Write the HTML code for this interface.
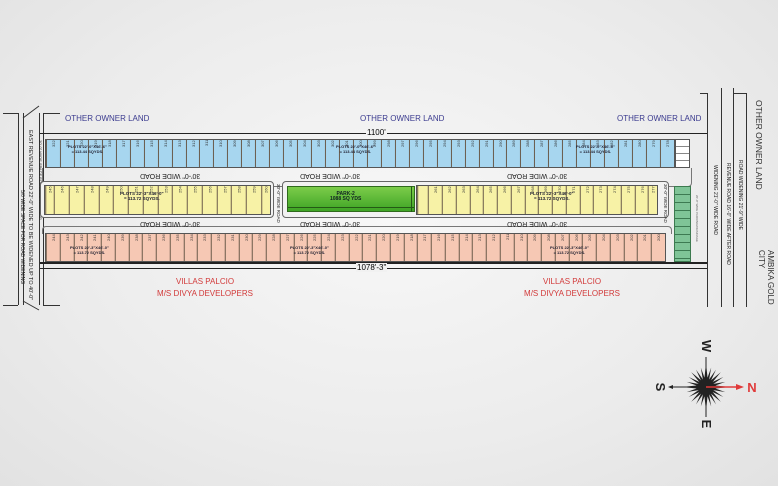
<!DOCTYPE html>
<html><head><meta charset="utf-8"><style>
*{margin:0;padding:0;box-sizing:border-box}
body{width:778px;height:486px;overflow:hidden;position:relative;font-family:"Liberation Sans",sans-serif;background:radial-gradient(ellipse at 50% 45%,#f7f7f7 0%,#ececec 60%,#e2e2e2 100%)}
.a{position:absolute}
.row{position:absolute;display:flex;border:1px solid #555}
.row span{flex:1;border-right:1px solid #6a5a4a;font-size:4px;writing-mode:vertical-rl;transform:rotate(180deg);display:flex;align-items:center;justify-content:flex-end;padding-top:2px;color:#333}
.blue{background:#a7d6ef}.yel{background:#f7f2a6}.pink{background:#f6c8b4}
.lbl{position:absolute;font-size:8px;color:#3b3b8f;white-space:nowrap}
.red{color:#d23a3a;font-size:8px;text-align:center;position:absolute;line-height:12px}
.road{position:absolute;font-size:7px;color:#222;transform:rotate(180deg);white-space:nowrap}
.v{position:absolute;background:#333;width:1px}
.h{position:absolute;background:#333;height:1px}
.vt{position:absolute;writing-mode:vertical-rl;font-size:5px;color:#222;white-space:nowrap}
.note{position:absolute;font-size:4px;font-weight:bold;color:#223;text-align:center;line-height:5px}
</style></head><body>

<!-- left vertical roads -->
<div class="v" style="left:18px;top:113px;height:192px"></div>
<div class="v" style="left:23px;top:113px;height:192px"></div>
<div class="v" style="left:39px;top:113px;height:192px"></div>
<div class="v" style="left:43px;top:113px;height:192px"></div>
<div class="h" style="left:3px;top:113px;width:15px"></div>
<div class="h" style="left:43px;top:113px;width:17px"></div>
<div class="h" style="left:3px;top:305px;width:15px"></div>
<div class="h" style="left:43px;top:305px;width:17px"></div>
<svg class="a" style="left:0;top:100px" width="60" height="215"><line x1="23" y1="18" x2="39" y2="6" stroke="#333"/><line x1="23" y1="201" x2="39" y2="210" stroke="#333"/></svg>
<div class="vt" style="left:27px;top:130px;font-size:5.5px">EAST REVENUE ROAD 22'-0" WIDE TO BE WIDENED UP TO 40'-0"</div>
<div class="vt" style="left:19px;top:190px;font-size:5px">5/0 WIDE SPACE FOR ROAD WIDENING</div>
<div class="vt" style="left:38px;top:140px;font-size:4px">20'-0" WIDE SPACE FOR ROAD WIDENING</div>

<!-- right vertical roads -->
<div class="v" style="left:707px;top:93px;height:214px"></div>
<div class="v" style="left:721px;top:88px;height:219px"></div>
<div class="v" style="left:733px;top:88px;height:219px"></div>
<div class="v" style="left:746px;top:93px;height:214px"></div>
<div class="h" style="left:700px;top:93px;width:8px"></div>
<div class="h" style="left:733px;top:93px;width:13px"></div>
<div class="vt" style="left:737px;top:160px">ROAD WIDENING 21'-9" WIDE</div>
<div class="vt" style="left:725px;top:163px">REVENUE ROAD 16'-0" WIDE AFTER ROAD</div>
<div class="vt" style="left:712px;top:165px">WIDENING 21'-0" WIDE ROAD</div>
<div class="vt" style="left:695px;top:195px;font-size:3px;color:#666">20'-0" WIDE PARKING/DRAINAGE</div>
<div class="vt" style="left:754px;top:100px;font-size:8.5px;color:#333">OTHER OWNER LAND</div>
<div class="vt" style="left:757px;top:250px;font-size:8px;color:#333;line-height:9px">AMBIKA GOLD<br>CITY</div>

<!-- horizontal lines -->
<div class="h" style="left:40px;top:133px;width:667px;background:#222"></div>
<div class="a" style="left:366px;top:128px;font-size:8px;background:#f2f2f2;padding:0 1px">1100'</div>
<div class="h" style="left:40px;top:262px;width:667px;height:2px;background:#222"></div>
<div class="h" style="left:40px;top:268px;width:667px;background:#222"></div>
<div class="a" style="left:356px;top:263px;font-size:8px;background:#f1f1f1;padding:0 1px">1078'-3"</div>

<div class="lbl" style="left:65px;top:114px">OTHER OWNER LAND</div>
<div class="lbl" style="left:360px;top:114px">OTHER OWNER LAND</div>
<div class="lbl" style="left:617px;top:114px">OTHER OWNER LAND</div>

<!-- road outlines -->
<div class="a" style="left:42px;top:168px;width:650px;height:19px;border:1px solid #777;border-top:none;border-radius:0 0 4px 4px"></div>
<div class="a" style="left:40px;top:181px;width:234px;height:37px;border:1px solid #666;border-radius:4px;background:#f2f2f2"></div>
<div class="a" style="left:282px;top:181px;width:387px;height:37px;border:1px solid #666;border-radius:4px;background:#f2f2f2"></div>
<div class="a" style="left:42px;top:226px;width:630px;height:8px;border:1px solid #777;border-bottom:none;border-radius:4px 4px 0 0"></div>

<!-- blue row -->
<div class="row blue" style="left:45px;top:139px;width:630px;height:29px">
<span>322</span><span>321</span><span>320</span><span>319</span><span>318</span><span>317</span><span>316</span><span>315</span><span>314</span><span>313</span><span>312</span><span>311</span><span>310</span><span>309</span><span>308</span><span>307</span><span>306</span><span>305</span><span>304</span><span>303</span><span>302</span><span>301</span><span>300</span><span>299</span><span>298</span><span>297</span><span>296</span><span>295</span><span>294</span><span>293</span><span>292</span><span>291</span><span>290</span><span>289</span><span>288</span><span>287</span><span>286</span><span>285</span><span>284</span><span>283</span><span>282</span><span>281</span><span>280</span><span>279</span><span>278</span>
</div>
<div class="a" style="left:675px;top:139px;width:15px;height:29px;background:#fff;border:1px solid #555;background-image:repeating-linear-gradient(#fff 0 6px,#888 6px 7px)"></div>
<div class="note" style="left:68px;top:144px">PLOTS 22'-0"X46'-6"<br>= 113.44 SQYDS.</div>
<div class="note" style="left:336px;top:144px">PLOTS 22'-0"X46'-6"<br>= 113.44 SQYDS.</div>
<div class="note" style="left:576px;top:144px">PLOTS 22'-0"X46'-6"<br>= 113.44 SQYDS.</div>

<div class="road" style="left:140px;top:172px">30'-0" WIDE ROAD</div>
<div class="road" style="left:300px;top:172px">30'-0" WIDE ROAD</div>
<div class="road" style="left:507px;top:172px">30'-0" WIDE ROAD</div>

<!-- yellow left -->
<div class="row yel" style="left:44px;top:185px;width:227px;height:30px">
<span style="flex:0.6">245</span><span>246</span><span>247</span><span>248</span><span>249</span><span>250</span><span>251</span><span>252</span><span>253</span><span>254</span><span>255</span><span>256</span><span>257</span><span>258</span><span>259</span><span style="flex:0.6">260</span>
</div>
<div class="note" style="left:120px;top:191px;font-size:4.5px">PLOTS 22'-3"X46'-0"<br>= 113.72 SQYDS.</div>
<div class="vt" style="left:276px;top:184px;font-size:4.5px">30'-0" WIDE ROAD</div>

<!-- park -->
<div class="a" style="left:287px;top:186px;width:128px;height:26px;background:linear-gradient(#7ccc4a,#3ea425);border:1px solid #2f6a1c"></div>
<div class="h" style="left:288px;top:207px;width:126px;background:#245a15"></div>
<div class="v" style="left:411px;top:186px;height:26px;background:#245a15"></div>
<div class="note" style="left:330px;top:192px;font-size:5px;color:#122">PARK-2<br>1088 SQ YDS</div>

<!-- yellow right -->
<div class="row yel" style="left:416px;top:185px;width:242px;height:30px">
<span style="flex:0.8"></span><span>261</span><span>262</span><span>263</span><span>264</span><span>265</span><span>266</span><span>267</span><span>268</span><span>269</span><span>270</span><span>271</span><span>272</span><span>273</span><span>274</span><span>275</span><span>276</span><span style="flex:0.6">277</span>
</div>
<div class="note" style="left:530px;top:191px;font-size:4.5px">PLOTS 22'-3"X46'-0"<br>= 113.72 SQYDS.</div>
<div class="vt" style="left:663px;top:184px;font-size:4.5px">30'-0" WIDE ROAD</div>

<!-- green strip -->
<div class="a" style="left:674px;top:186px;width:17px;height:76px;background:#7fc497;border:1px solid #3c7a4f;background-image:repeating-linear-gradient(#7fc497 0 7px,#3d7a52 7px 8px),linear-gradient(90deg,transparent 8px,#3d7a52 8px 9px,transparent 9px)"></div>

<div class="road" style="left:140px;top:220px">30'-0" WIDE ROAD</div>
<div class="road" style="left:300px;top:220px">30'-0" WIDE ROAD</div>
<div class="road" style="left:507px;top:220px">30'-0" WIDE ROAD</div>

<!-- pink row -->
<div class="row pink" style="left:45px;top:233px;width:621px;height:29px">
<span>244</span><span>243</span><span>242</span><span>241</span><span>240</span><span>239</span><span>238</span><span>237</span><span>236</span><span>235</span><span>234</span><span>233</span><span>232</span><span>231</span><span>230</span><span>229</span><span>228</span><span>227</span><span>226</span><span>225</span><span>224</span><span>223</span><span>222</span><span>221</span><span>220</span><span>219</span><span>218</span><span>217</span><span>216</span><span>215</span><span>214</span><span>213</span><span>212</span><span>211</span><span>210</span><span>209</span><span>208</span><span>207</span><span>206</span><span>205</span><span>204</span><span>203</span><span>202</span><span>201</span><span>200</span>
</div>
<div class="note" style="left:70px;top:245px">PLOTS 22'-3"X46'-0"<br>= 113.72 SQYDS.</div>
<div class="note" style="left:290px;top:245px">PLOTS 22'-3"X46'-0"<br>= 113.72 SQYDS.</div>
<div class="note" style="left:550px;top:245px">PLOTS 22'-3"X46'-0"<br>= 113.72 SQYDS.</div>

<div class="red" style="left:140px;top:276px;width:130px">VILLAS PALCIO<br>M/S DIVYA DEVELOPERS</div>
<div class="red" style="left:507px;top:276px;width:130px">VILLAS PALCIO<br>M/S DIVYA DEVELOPERS</div>

<!-- compass -->
<svg class="a" style="left:640px;top:330px" width="138" height="110" viewBox="0 0 138 110">
<g transform="translate(66,57)" fill="#222">
<polygon points="0,-24 2.5,0 0,24 -2.5,0"/>
<polygon points="-24,0 0,-2.5 24,0 0,2.5"/>
<g transform="rotate(15)"><polygon points="0,-20 1.8,0 0,20 -1.8,0"/><polygon points="-20,0 0,-1.8 20,0 0,1.8"/></g>
<g transform="rotate(30)"><polygon points="0,-20 1.8,0 0,20 -1.8,0"/><polygon points="-20,0 0,-1.8 20,0 0,1.8"/></g>
<g transform="rotate(45)"><polygon points="0,-21 2,0 0,21 -2,0"/><polygon points="-21,0 0,-2 21,0 0,2"/></g>
<g transform="rotate(60)"><polygon points="0,-20 1.8,0 0,20 -1.8,0"/><polygon points="-20,0 0,-1.8 20,0 0,1.8"/></g>
<g transform="rotate(75)"><polygon points="0,-20 1.8,0 0,20 -1.8,0"/><polygon points="-20,0 0,-1.8 20,0 0,1.8"/></g>
<circle r="7"/>
<line x1="0" y1="-30" x2="0" y2="30" stroke="#222" stroke-width="1"/>
<line x1="-36" y1="0" x2="0" y2="0" stroke="#222" stroke-width="1"/>
<polygon points="-38,0 -33,-2 -33,2"/>
<line x1="0" y1="0" x2="32" y2="0" stroke="#e03a3a" stroke-width="1.5"/>
<polygon points="38,0 30,-3 30,3" fill="#e03a3a"/>
</g>
<text x="66" y="20" font-family="Liberation Sans" font-weight="bold" font-size="13" transform="rotate(90 66 16)" text-anchor="middle" fill="#222">W</text>
<text x="66" y="98" font-family="Liberation Sans" font-weight="bold" font-size="13" transform="rotate(90 66 94)" text-anchor="middle" fill="#222">E</text>
<text x="20" y="61" font-family="Liberation Sans" font-weight="bold" font-size="13" transform="rotate(90 20 57)" text-anchor="middle" fill="#222">S</text>
<text x="112" y="62" font-family="Liberation Sans" font-weight="bold" font-size="13" text-anchor="middle" fill="#e03a3a">N</text>
</svg>
</body></html>
